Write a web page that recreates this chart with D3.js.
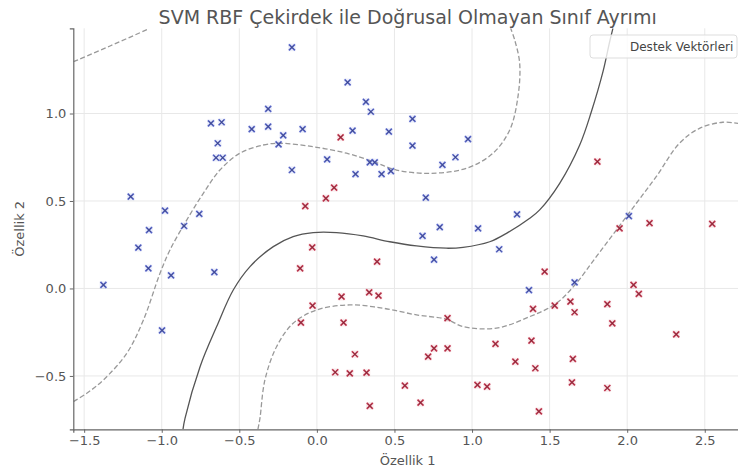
<!DOCTYPE html>
<html>
<head>
<meta charset="utf-8">
<script src="https://cdn.jsdelivr.net/npm/d3@7"></script>
<style>
  body { margin: 0; background: #fff; }
  svg { display: block; font-family: "DejaVu Sans", sans-serif; }
</style>
</head>
<body>
<div id="chart"></div>
<script>
// class 0 (blue) points
const blueX = [-0.161, -0.314, -0.683, -0.614, -0.420, -0.314, -0.092, -0.217, -0.639, -0.247,
  -0.650, -0.607, 0.066, -0.161, -1.200, -0.979, -0.758, -0.856, -1.082, -1.151,
  -1.086, -0.940, -0.661, -1.376, -0.998, 0.198, 0.316, 0.348, 0.616, 0.230,
  0.464, 0.974, 0.616, 0.893, 0.809, 0.341, 0.373, 0.249, 0.417, 0.477,
  0.702, 0.792, 0.681, 1.039, 1.290, 1.175, 0.755, 1.367, 2.011, 1.661];
const blueY = [1.378, 1.026, 0.944, 0.950, 0.911, 0.925, 0.911, 0.875, 0.830, 0.824,
  0.747, 0.747, 0.738, 0.677, 0.525, 0.445, 0.426, 0.357, 0.334, 0.233,
  0.115, 0.075, 0.093, 0.020, -0.240, 1.178, 1.067, 1.010, 0.969, 0.902,
  0.896, 0.854, 0.816, 0.750, 0.706, 0.721, 0.721, 0.654, 0.654, 0.671,
  0.519, 0.350, 0.300, 0.344, 0.423, 0.224, 0.165, -0.009, 0.414, 0.035];

// class 1 (red) points
const redX = [-0.075, 0.058, -0.030, -0.108, 0.153, 0.111, 0.388, 0.159, 0.337, 0.397,
  -0.028, -0.103, 0.172, 0.842, 0.755, 0.717, 0.842, 0.245, 0.118, 0.212,
  0.320, 0.567, 0.668, 0.341, 1.808, 1.951, 2.144, 2.548, 1.468, 2.041,
  2.075, 1.872, 1.904, 2.316, 1.634, 1.661, 1.533, 1.393, 1.151, 1.383,
  1.279, 1.408, 1.650, 1.644, 1.035, 1.097, 1.872, 1.431];
const redY = [0.471, 0.515, 0.235, 0.115, 0.864, 0.576, 0.153, -0.047, -0.022, -0.041,
  -0.098, -0.195, -0.195, -0.170, -0.342, -0.390, -0.342, -0.376, -0.479, -0.485,
  -0.481, -0.555, -0.653, -0.671, 0.725, 0.344, 0.373, 0.369, 0.096, 0.020,
  -0.031, -0.090, -0.199, -0.262, -0.075, -0.136, -0.098, -0.117, -0.317, -0.298,
  -0.418, -0.456, -0.403, -0.537, -0.551, -0.561, -0.569, -0.703];

// decision function contours
const boundary = [[-0.863, -0.805], [-0.850, -0.742], [-0.753, -0.447], [-0.646, -0.218], [-0.539, -0.009],
  [-0.431, 0.125], [-0.281, 0.239], [-0.153, 0.296], [-0.024, 0.319], [0.127, 0.319],
  [0.298, 0.300], [0.470, 0.267], [0.642, 0.243], [0.835, 0.230], [0.942, 0.235],
  [1.114, 0.267], [1.222, 0.315], [1.372, 0.401], [1.436, 0.449], [1.565, 0.601],
  [1.694, 0.820], [1.769, 1.010], [1.844, 1.239], [1.887, 1.410], [1.908, 1.487]];
const marginUpper = [[-1.569, -0.647], [-1.483, -0.599], [-1.376, -0.523], [-1.225, -0.370], [-1.118, -0.180],
  [-1.011, 0.087], [-0.947, 0.220], [-0.839, 0.391], [-0.732, 0.544], [-0.625, 0.677],
  [-0.496, 0.773], [-0.346, 0.820], [-0.238, 0.830], [-0.024, 0.810], [0.191, 0.773],
  [0.363, 0.725], [0.513, 0.677], [0.728, 0.658], [0.964, 0.687], [1.135, 0.773],
  [1.243, 0.906], [1.296, 1.096], [1.307, 1.287], [1.275, 1.420], [1.249, 1.487]];
const marginCorner = [[-1.569, 1.296], [-1.333, 1.386], [-1.086, 1.483]];
const marginLower = [[-0.380, -0.805], [-0.367, -0.742], [-0.335, -0.523], [-0.260, -0.333], [-0.153, -0.199],
  [-0.002, -0.123], [0.212, -0.094], [0.427, -0.113], [0.642, -0.151], [0.835, -0.176],
  [0.942, -0.218], [1.157, -0.227], [1.372, -0.161], [1.543, -0.085], [1.672, 0.030],
  [1.801, 0.182], [1.930, 0.334], [2.059, 0.487], [2.187, 0.639], [2.337, 0.830],
  [2.466, 0.915], [2.616, 0.950], [2.737, 0.940]];

const xTicks = [-1.5, -1.0, -0.5, 0.0, 0.5, 1.0, 1.5, 2.0, 2.5];
const yTicks = [-0.5, 0.0, 0.5, 1.0];

const W = 738, H = 472;
const pLeft = 73.3, pRight = 742, pTop = 28.3, pBottom = 429.3;

const svg = d3.select("#chart").append("svg")
  .attr("width", W)
  .attr("height", H);

const x = d3.scaleLinear().domain([-1.57, 2.74]).range([pLeft, pRight]);
const y = d3.scaleLinear().domain([-0.805, 1.487]).range([pBottom, pTop]);

svg.append("clipPath").attr("id", "plotclip")
  .append("rect")
  .attr("x", pLeft).attr("y", pTop)
  .attr("width", pRight - pLeft).attr("height", pBottom - pTop);

// grid
svg.append("g").selectAll("line")
  .data(xTicks).enter().append("line")
  .attr("x1", d => x(d)).attr("x2", d => x(d))
  .attr("y1", pTop).attr("y2", pBottom)
  .attr("stroke", "#e8e8e8").attr("stroke-width", 1);
svg.append("g").selectAll("line")
  .data(yTicks).enter().append("line")
  .attr("x1", pLeft).attr("x2", pRight)
  .attr("y1", d => y(d)).attr("y2", d => y(d))
  .attr("stroke", "#e8e8e8").attr("stroke-width", 1);

// contours
const line = d3.line()
  .x(d => x(d[0]))
  .y(d => y(d[1]))
  .curve(d3.curveCatmullRom);

const plot = svg.append("g").attr("clip-path", "url(#plotclip)");

plot.append("path").datum(boundary)
  .attr("d", line).attr("fill", "none")
  .attr("stroke", "#555").attr("stroke-width", 1.3);

[marginUpper, marginCorner, marginLower].forEach(function(c) {
  plot.append("path").datum(c)
    .attr("d", line).attr("fill", "none")
    .attr("stroke", "#999").attr("stroke-width", 1.3)
    .attr("stroke-dasharray", "5,2.5");
});

// points as x markers
function drawMarkers(xs, ys, color) {
  const pts = xs.map((v, i) => [v, ys[i]]);
  const g = plot.append("g");
  const s = 3;
  const mk = g.selectAll("g").data(pts).enter().append("g")
    .attr("transform", d => "translate(" + x(d[0]) + "," + y(d[1]) + ")");
  mk.append("rect")
    .attr("x", -s - 0.8).attr("y", -s - 0.8)
    .attr("width", 2 * s + 1.6).attr("height", 2 * s + 1.6)
    .attr("fill", color).attr("fill-opacity", 0.1);
  mk.append("path")
    .attr("d", "M" + (-s) + "," + (-s) + "L" + s + "," + s + "M" + (-s) + "," + s + "L" + s + "," + (-s))
    .attr("stroke", color).attr("stroke-width", 1.7).attr("fill", "none");
  mk.append("path")
    .attr("d", "M" + (-s + 0.8) + "," + (-s + 0.8) + "L" + (s - 0.8) + "," + (s - 0.8) + "M" + (-s + 0.8) + "," + (s - 0.8) + "L" + (s - 0.8) + "," + (-s + 0.8))
    .attr("stroke", "#222").attr("stroke-opacity", 0.45).attr("stroke-width", 0.8).attr("fill", "none");
}
drawMarkers(blueX, blueY, "#5a68cc");
drawMarkers(redX, redY, "#c63a52");

// axes
const fmt = d3.format(".1f");
const xAxis = svg.append("g")
  .attr("transform", "translate(0," + pBottom + ")")
  .call(d3.axisBottom(x).tickValues(xTicks).tickFormat(fmt).tickSize(3.5).tickPadding(3));
const yAxis = svg.append("g")
  .attr("transform", "translate(" + pLeft + ",0)")
  .call(d3.axisLeft(y).tickValues(yTicks).tickFormat(fmt).tickSize(3.5).tickPadding(3.5));

[xAxis, yAxis].forEach(function(a) {
  a.select(".domain").attr("stroke", "#666").attr("stroke-width", 1.2);
  a.selectAll(".tick line").attr("stroke", "#666");
  a.selectAll(".tick text")
    .attr("fill", "#555")
    .style("font-size", "13px")
    .style("font-family", "DejaVu Sans, sans-serif");
});

// labels
svg.append("text")
  .attr("x", (pLeft + pRight) / 2).attr("y", 465)
  .attr("text-anchor", "middle")
  .attr("fill", "#555")
  .style("font-size", "13px")
  .text("Özellik 1");

svg.append("text")
  .attr("transform", "translate(24," + ((pTop + pBottom) / 2) + ") rotate(-90)")
  .attr("text-anchor", "middle")
  .attr("fill", "#555")
  .style("font-size", "13px")
  .text("Özellik 2");

svg.append("text")
  .attr("x", (pLeft + pRight) / 2).attr("y", 24)
  .attr("text-anchor", "middle")
  .attr("fill", "#555")
  .style("font-size", "19px")
  .text("SVM RBF Çekirdek ile Doğrusal Olmayan Sınıf Ayrımı");

// legend
const legend = svg.append("g");
legend.append("rect")
  .attr("x", 590).attr("y", 35)
  .attr("width", 147).attr("height", 23)
  .attr("rx", 3)
  .attr("fill", "#fff").attr("fill-opacity", 0.8)
  .attr("stroke", "#ddd");
legend.append("text")
  .attr("x", 630).attr("y", 51)
  .attr("fill", "#444")
  .style("font-size", "12px")
  .text("Destek Vektörleri");
</script>
</body>
</html>
